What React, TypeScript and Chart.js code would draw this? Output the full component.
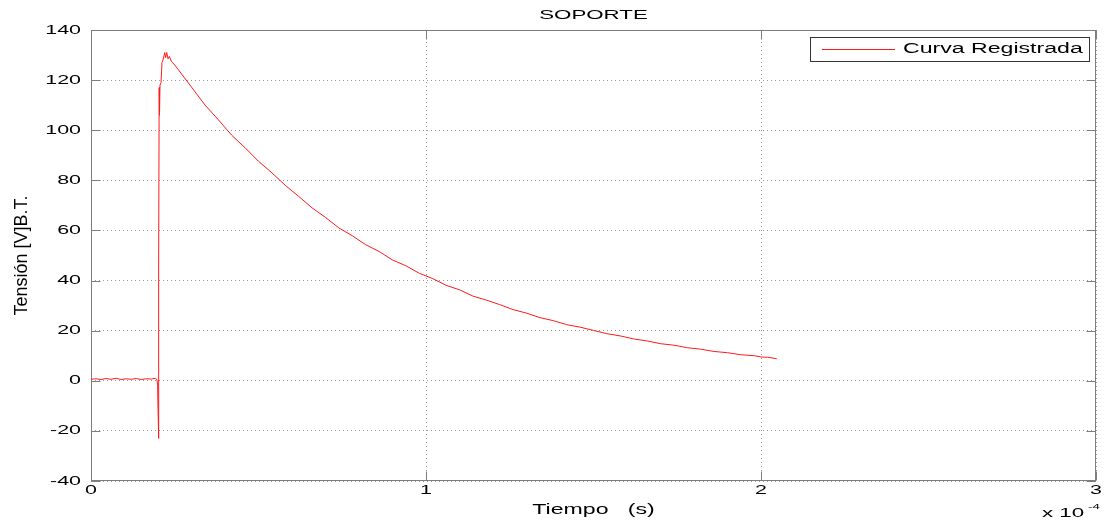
import React, { useEffect, useRef } from "react";
import { Chart, registerables } from "chart.js";

Chart.register(...registerables);

// ---- data (time in units of 1e-4 s, tension in V) ----
const tiempoE4 = [
  0.0, 0.015, 0.03, 0.045, 0.06, 0.075, 0.09, 0.105, 0.12, 0.135, 0.15, 0.165, 0.18, 0.192, 0.197,
  0.199, 0.2, 0.2015, 0.2025, 0.2035, 0.2045, 0.206, 0.209, 0.212, 0.216, 0.22, 0.223, 0.226, 0.23,
  0.234, 0.24, 0.25, 0.26, 0.3, 0.34, 0.38, 0.42, 0.46, 0.5, 0.54, 0.58, 0.62, 0.66, 0.7, 0.74,
  0.78, 0.82, 0.86, 0.9, 0.94, 0.98, 1.02, 1.06, 1.1, 1.14, 1.18, 1.22, 1.26, 1.3, 1.34, 1.38,
  1.42, 1.46, 1.5, 1.54, 1.58, 1.62, 1.66, 1.7, 1.74, 1.78, 1.82, 1.86, 1.9, 1.94, 1.98, 2.0,
  2.02, 2.047,
];
const tensionV = [
  0.6, 0.8, 0.5, 0.9, 0.6, 1.0, 0.5, 0.8, 0.6, 0.9, 0.5, 0.8, 0.7, 1.0, 0.4,
  -2, -11, -23, 47, 117, 106, 118, 119, 127, 128.5, 131, 129, 131, 128.5,
  129.5, 127.5, 126, 124.3, 117.2, 110.1, 104.2, 98.0, 93.0, 87.6, 83.0, 78.0, 73.6, 69.0, 65.2, 61.0,
  57.9, 54.3, 51.6, 48.2, 45.9, 42.9, 40.8, 38.1, 36.3, 33.8, 32.2, 30.4, 28.4, 27.0, 25.2, 24.0,
  22.4, 21.4, 20.1, 18.8, 17.9, 16.7, 15.9, 14.8, 14.2, 13.2, 12.6, 11.7, 11.2, 10.4, 10.0, 9.5,
  9.4, 8.8,
];

const titulo = "SOPORTE";
const etiquetaSerie = "Curva Registrada";
const tituloX = "Tiempo   (s)";
const tituloY = "Tensión [V]B.T.";
const multiplicador = "x 10";
const exponente = "-4";
const xMin = 0;
const xMax = 3;
const xStep = 1;
const yMin = -40;
const yMax = 140;
const yStep = 20;

// ---- styling ----
const SX = 1.65; // horizontal stretch of the horizontal text
const FONT = "'Liberation Sans', Arial, Helvetica, sans-serif";
const AXIS_GRAY = "#7d7d7d";
const GRID_GRAY = "#9a9a9a";
const LINE_RED = "#ff1a1a";
const TICK_LEN = 9;

const boxPlugin = {
  id: "matlabBox",
  beforeDatasetsDraw(chart: any) {
    const { ctx, chartArea, scales } = chart;
    const L = Math.round(chartArea.left) + 0.5;
    const R = Math.round(chartArea.right) - 0.5;
    const T = Math.round(chartArea.top) + 0.5;
    const B = Math.round(chartArea.bottom) - 0.5;
    ctx.save();
    ctx.setLineDash([]);
    ctx.strokeStyle = AXIS_GRAY;
    ctx.lineWidth = 1;
    ctx.beginPath();
    scales.y.ticks.forEach((t: any) => {
      const py = Math.round(scales.y.getPixelForValue(t.value)) + 0.5;
      ctx.moveTo(L, py);
      ctx.lineTo(L + TICK_LEN, py);
      ctx.moveTo(R, py);
      ctx.lineTo(R - TICK_LEN, py);
    });
    scales.x.ticks.forEach((t: any) => {
      const px = Math.round(scales.x.getPixelForValue(t.value)) + 0.5;
      ctx.moveTo(px, B);
      ctx.lineTo(px, B - TICK_LEN);
      ctx.moveTo(px, T);
      ctx.lineTo(px, T + TICK_LEN);
    });
    ctx.stroke();
    ctx.strokeRect(L, T, R - L, B - T);
    ctx.restore();
  },
  afterDraw(chart: any) {
    const { ctx } = chart;
    ctx.save();
    // legend
    ctx.fillStyle = "#ffffff";
    ctx.fillRect(810, 37, 279, 24);
    ctx.strokeStyle = "#333333";
    ctx.lineWidth = 1;
    ctx.strokeRect(810.5, 37.5, 279, 24);
    ctx.strokeStyle = LINE_RED;
    ctx.beginPath();
    ctx.moveTo(822, 49.5);
    ctx.lineTo(895, 49.5);
    ctx.stroke();
    ctx.fillStyle = "#000000";
    ctx.textAlign = "left";
    ctx.textBaseline = "middle";
    ctx.font = `14px ${FONT}`;
    ctx.fillText(etiquetaSerie, 903, 49.5);
    // exponent
    ctx.font = `13.5px ${FONT}`;
    ctx.fillText(multiplicador, 1042, 513.5);
    ctx.font = `8px ${FONT}`;
    ctx.fillText(exponente, 1088, 507);
    ctx.restore();
  },
};

export default function App() {
  const ref = useRef<HTMLCanvasElement>(null);

  useEffect(() => {
    const canvas = ref.current!;
    const ctx = canvas.getContext("2d")!;
    const orig = CanvasRenderingContext2D.prototype.fillText;
    (ctx as any).fillText = function (text: string, x: number, y: number, maxWidth?: number) {
      const m = this.getTransform();
      if (Math.abs(m.b) > 1e-9 || Math.abs(m.c) > 1e-9) {
        return maxWidth === undefined ? orig.call(this, text, x, y) : orig.call(this, text, x, y, maxWidth);
      }
      const px = m.a * x + m.e;
      this.save();
      this.setTransform(m.a * SX, 0, 0, m.d, m.e * SX + px * (1 - SX), m.f);
      orig.call(this, text, x, y);
      this.restore();
    };

    const points = tiempoE4.map((t, i) => ({ x: t, y: tensionV[i] }));

    const chart = new Chart(canvas, {
      type: "line",
      data: {
        datasets: [
          {
            label: etiquetaSerie,
            data: points,
            borderColor: LINE_RED,
            borderWidth: 1,
            pointRadius: 0,
            tension: 0,
            fill: false,
          },
        ],
      },
      options: {
        responsive: false,
        animation: false,
        devicePixelRatio: 1,
        layout: { padding: { left: 0, right: 12, top: 0, bottom: 0 } },
        plugins: {
          legend: { display: false },
          tooltip: { enabled: false },
          title: {
            display: true,
            text: titulo,
            fullSize: false,
            color: "#000000",
            font: { family: FONT, size: 13.5, weight: "normal" },
            padding: { top: 7, bottom: 6.8 },
          },
        },
        scales: {
          x: {
            type: "linear",
            min: xMin,
            max: xMax,
            ticks: {
              stepSize: xStep,
              autoSkip: false,
              maxRotation: 0,
              color: "#000000",
              font: { family: FONT, size: 13 },
              padding: 2,
              callback: (v: any) => String(v),
            },
            grid: { color: GRID_GRAY, lineWidth: 1, drawTicks: false },
            border: { display: false, dash: [1, 3] },
            title: {
              display: true,
              text: tituloX,
              color: "#000000",
              font: { family: FONT, size: 14 },
              padding: { top: 0, bottom: 2.6 },
            },
            afterFit: (s: any) => {
              s.height = 40;
            },
          },
          y: {
            type: "linear",
            min: yMin,
            max: yMax,
            ticks: {
              stepSize: yStep,
              color: "#000000",
              font: { family: FONT, size: 13 },
              padding: 10,
            },
            grid: { color: GRID_GRAY, lineWidth: 1, drawTicks: false },
            border: { display: false, dash: [1, 3] },
            title: {
              display: true,
              text: tituloY,
              color: "#000000",
              font: { family: FONT, size: 18 },
              padding: { top: 11.7, bottom: 0 },
            },
            afterFit: (s: any) => {
              s.width = 91;
            },
          },
        },
      },
      plugins: [boxPlugin],
    } as any);

    return () => {
      chart.destroy();
      delete (ctx as any).fillText;
    };
  }, []);

  return (
    <canvas
      ref={ref}
      width={1108}
      height={521}
      style={{ position: "absolute", left: 0, top: 0, display: "block" }}
    />
  );
}
